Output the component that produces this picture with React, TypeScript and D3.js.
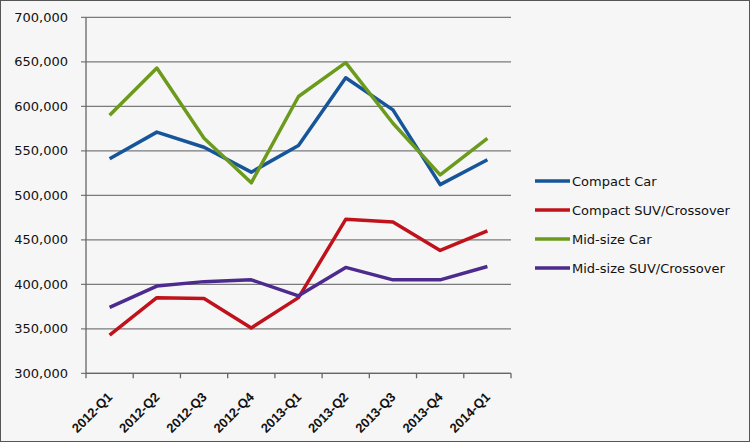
import React from "react";
import * as d3 from "d3";

const categories = ["2012-Q1", "2012-Q2", "2012-Q3", "2012-Q4", "2013-Q1", "2013-Q2", "2013-Q3", "2013-Q4", "2014-Q1"];
const compactCar = [541000, 571000, 554000, 526000, 556000, 632000, 596000, 512000, 540000];
const compactSUV = [343000, 385000, 384000, 351000, 385000, 473000, 470000, 438000, 460000];
const midsizeCar = [590000, 643000, 564000, 514000, 611000, 649000, 581000, 523000, 564000];
const midsizeSUV = [374000, 398000, 403000, 405000, 387000, 419000, 405000, 405000, 420000];
const seriesNames = ["Compact Car", "Compact SUV/Crossover", "Mid-size Car", "Mid-size SUV/Crossover"];
const yTicks = [300000, 350000, 400000, 450000, 500000, 550000, 600000, 650000, 700000];

const colors = ["#17559a", "#c0121b", "#6b9a1c", "#4c2a8e"];
const W = 750, H = 442;
const left = 86, right = 511, top = 17.3, bottom = 373.3;
const font = "DejaVu Sans, Verdana, sans-serif";

export default function App() {
  const x = d3.scaleBand<string>().domain(categories).range([left, right]);
  const y = d3.scaleLinear().domain([300000, 700000]).range([bottom, top]);
  const fmt = d3.format(",");
  const line = d3.line<number>()
    .x((_, i) => (x(categories[i]) as number) + x.bandwidth() / 2)
    .y((d) => y(d));
  const series = [compactCar, compactSUV, midsizeCar, midsizeSUV];
  const boundaries = d3.range(categories.length + 1).map((i) => left + i * x.step());
  const legendY = [181, 210, 239, 268];

  return (
    <div style={{ position: "fixed", left: 0, top: 0 }}>
      <svg width={W} height={H} style={{ display: "block" }}>
        <rect x={0.5} y={0.5} width={W - 1} height={H - 1} fill="#f6f6f6" stroke="#555" strokeWidth={1} />
        {yTicks.map((t) => (
          <g key={t}>
            <line x1={left - 5} x2={right} y1={y(t)} y2={y(t)} stroke="#7a7a7a" strokeWidth={1.3} />
            <text x={68} y={y(t)} dy="0.35em" textAnchor="end" fontFamily={font} fontSize={13} fill="#111">
              {fmt(t)}
            </text>
          </g>
        ))}
        <line x1={left} x2={left} y1={top} y2={bottom} stroke="#666" strokeWidth={1.3} />
        <line x1={left} x2={right} y1={bottom} y2={bottom} stroke="#666" strokeWidth={1.3} />
        {boundaries.map((bx, i) => (
          <line key={i} x1={bx} x2={bx} y1={bottom} y2={bottom + 5} stroke="#666" strokeWidth={1.3} />
        ))}
        {categories.map((c) => {
          const cx = (x(c) as number) + x.bandwidth() / 2;
          return (
            <text key={c} transform={`translate(${cx + 3.5},${bottom + 24.5}) rotate(-45)`} textAnchor="end"
              fontFamily="Liberation Sans, Arial, sans-serif" fontSize={13} fontWeight="bold" fill="#111">
              {c}
            </text>
          );
        })}
        {series.map((s, i) => (
          <path key={i} d={line(s) || ""} fill="none" stroke={colors[i]} strokeWidth={3.5} strokeLinejoin="round" />
        ))}
        {seriesNames.map((n, i) => (
          <g key={n}>
            <line x1={535} x2={570} y1={legendY[i]} y2={legendY[i]} stroke={colors[i]} strokeWidth={3.5} />
            <text x={572} y={legendY[i]} dy="0.35em" fontFamily={font} fontSize={13} fill="#111">{n}</text>
          </g>
        ))}
      </svg>
    </div>
  );
}
